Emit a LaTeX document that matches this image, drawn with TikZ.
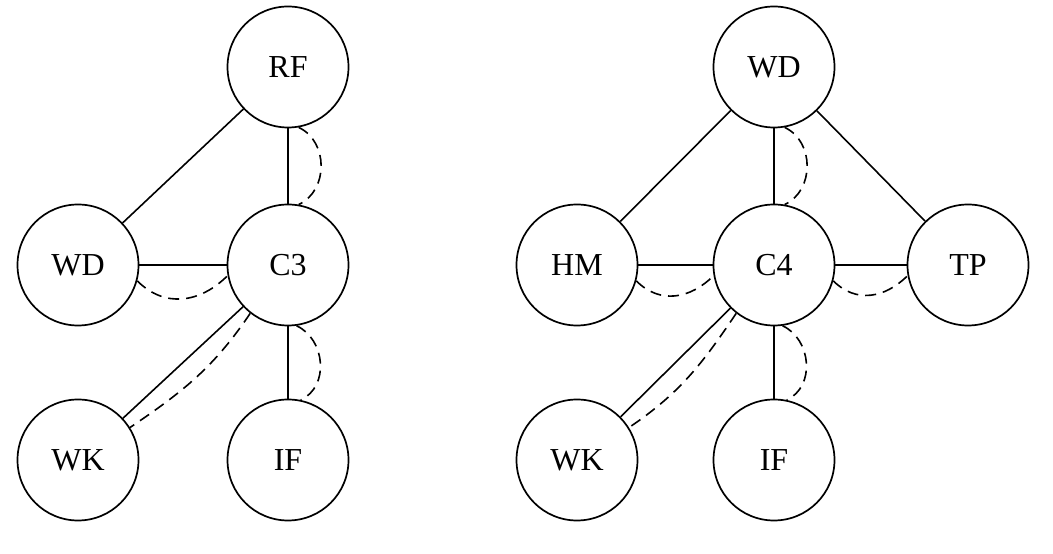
\documentclass[tikz,border=0pt]{standalone}
\usepackage{fontspec}
\setmainfont{Liberation Serif}
\begin{document}
\begin{tikzpicture}[x=1pt,y=1pt,
  var/.style={draw,circle,minimum size=121pt,inner sep=0pt,line width=1.7pt,
    font=\fontsize{32}{38}\selectfont},
  link/.style={line width=1.6pt},
  dep/.style={line width=1.6pt,dash pattern=on 11pt off 7pt}]
\useasboundingbox (0,0) rectangle (1053,554);
% left network
\node[var] (RF) at (288,487) {RF};
\node[var] (WDa) at (78,289) {WD};
\node[var] (C3) at (288,289) {C3};
\node[var] (WKa) at (78,94) {WK};
\node[var] (IFa) at (288,94) {IF};
\draw[link] (RF) -- (WDa);
\draw[link] (RF) -- (C3);
\draw[link] (WDa) -- (C3);
\draw[link] (C3) -- (WKa);
\draw[link] (C3) -- (IFa);
\draw[dep] (RF.-80) to[out=-25,in=25,looseness=1.1] (C3.80);
\draw[dep] (WDa.-15) to[out=-45,in=-135,looseness=1.1] (C3.190);
\draw[dep] (C3.-128) to[out=-124,in=34] (WKa.32);
\draw[dep] (C3.-82) to[out=-25,in=25,looseness=1.1] (IFa.78);
% right network
\node[var] (WDb) at (774,487) {WD};
\node[var] (HM) at (577,289) {HM};
\node[var] (C4) at (774,289) {C4};
\node[var] (TP) at (968,289) {TP};
\node[var] (WKb) at (577,94) {WK};
\node[var] (IFb) at (774,94) {IF};
\draw[link] (WDb) -- (HM);
\draw[link] (WDb) -- (C4);
\draw[link] (WDb) -- (TP);
\draw[link] (HM) -- (C4);
\draw[link] (C4) -- (TP);
\draw[link] (C4) -- (WKb);
\draw[link] (C4) -- (IFb);
\draw[dep] (WDb.-80) to[out=-25,in=25,looseness=1.1] (C4.80);
\draw[dep] (HM.-15) to[out=-45,in=-135,looseness=1.1] (C4.190);
\draw[dep] (C4.-15) to[out=-45,in=-135,looseness=1.1] (TP.190);
\draw[dep] (C4.-128) to[out=-124,in=34] (WKb.32);
\draw[dep] (C4.-82) to[out=-25,in=25,looseness=1.1] (IFb.78);
\end{tikzpicture}
\end{document}
